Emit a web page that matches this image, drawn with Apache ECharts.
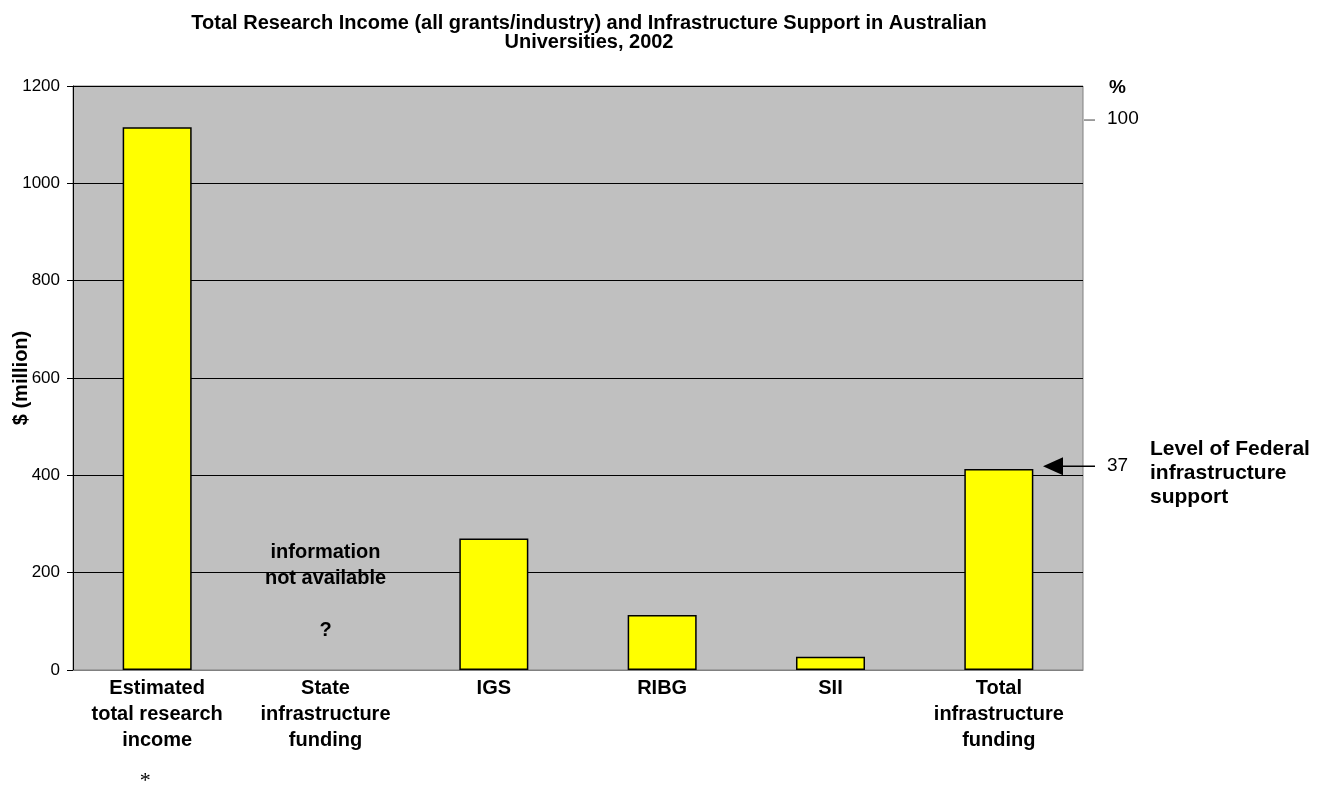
<!DOCTYPE html>
<html>
<head>
<meta charset="utf-8">
<script src="https://cdn.jsdelivr.net/npm/echarts@6/dist/echarts.min.js"></script>
<style>
html,body{margin:0;padding:0;background:#fff;}
#chart{width:1331px;height:787px;}
</style>
</head>
<body>
<div id="chart"></div>
<script>
var titleText = 'Total Research Income (all grants/industry) and Infrastructure Support in Australian\nUniversities, 2002';
var categories = ['Estimated\ntotal research\nincome', 'State\ninfrastructure\nfunding', 'IGS', 'RIBG', 'SII', 'Total\ninfrastructure\nfunding'];
var values = [1115, null, 270, 113, 27, 413];
var yTicks = [0, 200, 400, 600, 800, 1000, 1200];
var pctLabels = [100, 37];
var pctMax = 106;
var noteState = ['information', 'not available', '?'];
var noteFederal = 'Level of Federal\ninfrastructure\nsupport';
var footnoteMark = '*';

var FONT = '"Liberation Sans", Arial, sans-serif';
var chart = echarts.init(document.getElementById('chart'), null, {renderer: 'canvas'});

var option = {
  backgroundColor: '#ffffff',
  animation: false,
  title: {
    text: titleText,
    left: 584, top: 9, textAlign: 'center',
    textStyle: {fontFamily: FONT, fontSize: 20, fontWeight: 'bold', color: '#000', lineHeight: 19}
  },
  grid: {left: 73, right: 248, top: 86, bottom: 117, outerBoundsMode: 'none', containLabel: false,
         show: true, backgroundColor: '#c0c0c0', borderColor: '#808080', borderWidth: 1},
  xAxis: {
    type: 'category', data: categories,
    axisLine: {show: true, lineStyle: {color: '#808080', width: 1}},
    axisTick: {show: false},
    axisLabel: {
      interval: 0, margin: 5, color: '#000', fontFamily: FONT, fontSize: 20, fontWeight: 'bold', lineHeight: 26
    }
  },
  yAxis: [{
    type: 'value', min: yTicks[0], max: yTicks[yTicks.length - 1], interval: 200,
    name: '$ (million)', nameLocation: 'middle', nameGap: 42, nameRotate: 90, nameMoveOverlap: false,
    nameTextStyle: {fontFamily: FONT, fontSize: 20, fontWeight: 'bold', color: '#000'},
    axisLine: {show: true, lineStyle: {color: '#000', width: 1}},
    axisTick: {show: true, inside: false, length: 6, lineStyle: {color: '#000'}},
    axisLabel: {color: '#000', fontFamily: FONT, fontSize: 17, margin: 13,
      formatter: function (v) { return String(v); }},
    splitLine: {show: true, lineStyle: {color: '#000', width: 1}}
  }, {
    type: 'value', min: 0, max: pctMax, interval: 1, position: 'right',
    axisLine: {show: false}, axisTick: {show: false}, splitLine: {show: false},
    axisLabel: {
      margin: 24, color: '#000', fontFamily: FONT, fontSize: 19,
      formatter: function (v) {
        return (v === pctLabels[0] || v === pctLabels[1]) ? String(v) : '';
      }
    }
  }],
  series: [{
    type: 'bar', data: values, barCategoryGap: '59%',
    itemStyle: {color: '#ffff00', borderColor: '#000', borderWidth: 1.5}
  }]
};
chart.setOption(option);

function drawAnnotations() {
  var cat0X = chart.convertToPixel({xAxisIndex: 0}, categories[0]);
  var stateX = chart.convertToPixel({xAxisIndex: 0}, categories[1]);
  var y200 = chart.convertToPixel({yAxisIndex: 0}, 200);
  var yTop = chart.convertToPixel({yAxisIndex: 0}, yTicks[yTicks.length - 1]);
  var y100p = chart.convertToPixel({yAxisIndex: 1}, pctLabels[0]);
  var y37p = chart.convertToPixel({yAxisIndex: 1}, pctLabels[1]);
  var gridRight = 1331 - 248;
  var bold = 'bold 20px ' + FONT;
  chart.setOption({
    graphic: [
      {type: 'text', x: stateX, y: y200 - 20, style: {text: noteState[0], textAlign: 'center', textVerticalAlign: 'middle', font: bold, fill: '#000'}},
      {type: 'text', x: stateX, y: y200 + 6, style: {text: noteState[1], textAlign: 'center', textVerticalAlign: 'middle', font: bold, fill: '#000'}},
      {type: 'text', x: stateX, y: y200 + 58, style: {text: noteState[2], textAlign: 'center', textVerticalAlign: 'middle', font: bold, fill: '#000'}},
      {type: 'text', x: gridRight + 26, y: yTop + 2, style: {text: '%', textAlign: 'left', textVerticalAlign: 'middle', font: 'bold 19px ' + FONT, fill: '#000'}},
      {type: 'line', shape: {x1: gridRight + 1, y1: y100p + 1, x2: gridRight + 12, y2: y100p + 1}, style: {stroke: '#808080', lineWidth: 1.5}},
      {type: 'line', shape: {x1: gridRight - 21, y1: y37p, x2: gridRight + 12, y2: y37p}, style: {stroke: '#000', lineWidth: 1.5}},
      {type: 'polygon', shape: {points: [[gridRight - 40, y37p], [gridRight - 20, y37p - 9], [gridRight - 20, y37p + 9]]}, style: {fill: '#000'}},
      {type: 'text', x: gridRight + 67, y: y37p - 29, style: {text: noteFederal, font: 'bold 21px ' + FONT, fill: '#000', lineHeight: 24, textVerticalAlign: 'top'}},
      {type: 'text', x: cat0X - 12, y: 781, style: {text: footnoteMark, textAlign: 'center', textVerticalAlign: 'middle', font: '22px "Liberation Serif", serif', fill: '#000'}}
    ]
  });
}
drawAnnotations();
</script>
</body>
</html>
